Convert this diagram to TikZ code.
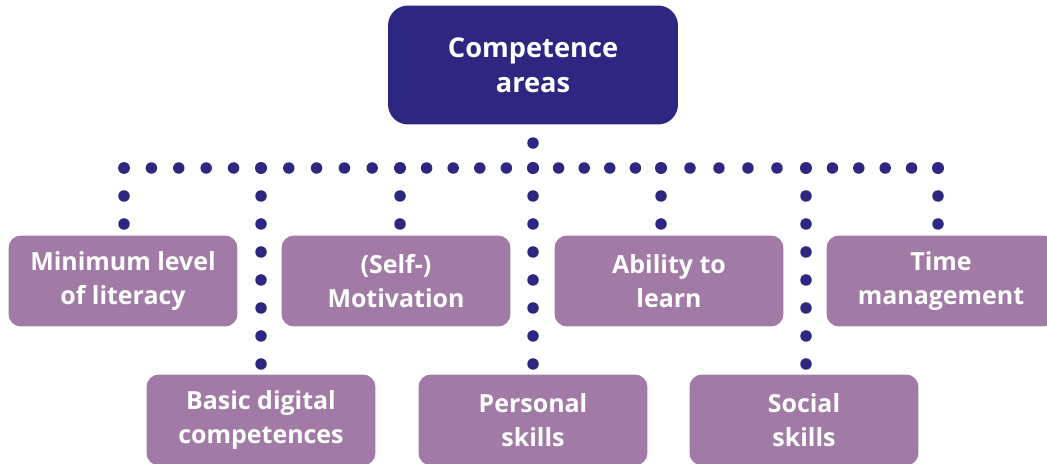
\documentclass[tikz,border=0pt]{standalone}
\usepackage{fontspec}
\setmainfont{Open Sans}
\definecolor{navy}{HTML}{2E2782}
\definecolor{mauve}{HTML}{A27AA6}
\begin{document}
\begin{tikzpicture}[x=0.02cm, y=-0.02cm]
			\tikzset{head/.style={rectangle, rounded corners=0.4cm, fill=navy, text=white, minimum width=5.8cm, minimum height=2.38cm, align=center, font=\bfseries\fontsize{15.5}{20}\selectfont},
				area/.style={rectangle, rounded corners=0.25cm, fill=mauve, text=white, minimum width=4.58cm, minimum height=1.82cm, align=center, font=\bfseries\fontsize{14.2}{19.5}\selectfont},
				dots/.style={navy, line width=0.23cm, line cap=round, dash pattern=on 0pt off #1},
				dots/.default=0.54cm,
				drop/.style={dots=0.56cm, shorten >=0.16cm}};

			\useasboundingbox (0,0) rectangle (1047,463);

			\node[head] (top) at ( 533,  65) {Competence\\areas};

			\node[area] (lit) at ( 123, 281) {Minimum level\\of literacy};
			\node[area] (mot) at ( 396, 281) {(Self-)\\Motivation};
			\node[area] (abl) at ( 669, 281) {Ability to\\learn};
			\node[area] (tim) at ( 941, 281) {Time\\management};

			\node[area] (dig) at ( 261, 420) {Basic digital\\competences};
			\node[area] (per) at ( 533, 420) {Personal\\skills};
			\node[area] (soc) at ( 804, 420) {Social\\skills};

			\coordinate (b1) at ( 124, 168);
			\coordinate (b2) at ( 261, 168);
			\coordinate (b3) at ( 400, 168);
			\coordinate (b4) at ( 533, 168);
			\coordinate (b5) at ( 661, 168);
			\coordinate (b6) at ( 806, 168);
			\coordinate (b7) at ( 938, 168);

			\draw[dots=0.548cm] (b1) -- (b2);
			\draw[dots=0.556cm] (b2) -- (b3);
			\draw[dots=0.532cm] (b3) -- (b4);
			\draw[dots=0.512cm] (b4) -- (b5);
			\draw[dots=0.58cm] (b5) -- (b6);
			\draw[dots=0.528cm] (b6) -- (b7);
			\draw[dots] (b7) -- ++(1,0);
			\draw[dots=0.5cm] (b4) -- ([yshift=-0.36cm]top.south);

			\draw[drop] (b1) -- (b1 |- lit.north);
			\draw[drop] (b3) -- (b3 |- mot.north);
			\draw[drop] (b5) -- (b5 |- abl.north);
			\draw[drop] (b7) -- (b7 |- tim.north);

			\draw[drop] (b2) -- (b2 |- dig.north);
			\draw[drop] (b4) -- (b4 |- per.north);
			\draw[drop] (b6) -- (b6 |- soc.north);

		\end{tikzpicture}
\end{document}
